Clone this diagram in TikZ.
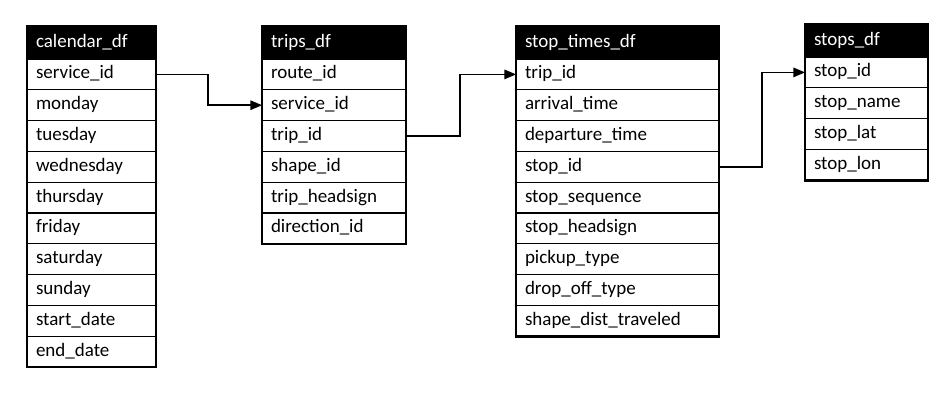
\documentclass[tikz,border=0pt]{standalone}
\usepackage{fontspec}
\setmainfont{Carlito}
\usetikzlibrary{arrows,positioning}

\begin{document}
\begin{tikzpicture}[x=1pt,y=-1pt,
  head/.style={fill=black,text=white,draw=black,line width=1pt,anchor=north west,outer sep=0pt,
    minimum height=33pt,inner xsep=9pt,text height=13pt,text depth=4pt,align=left,
    font=\fontsize{19}{22}\selectfont},
  field/.style={draw=black,line width=1.2pt,outer sep=0pt,minimum height=30.8pt,inner xsep=9pt,
    text height=13pt,text depth=4pt,align=left,font=\fontsize{19}{22}\selectfont},
  frame/.style={line width=2.6pt},
  link/.style={-triangle 45,line width=1.7pt}]
\useasboundingbox (0,0) rectangle (949,400);

% tables
\node[head,text width=111pt,name=cal-0] at (27,26) {calendar\_df};
\foreach \f [count=\i, remember=\i as \j (initially 0)] in
  {service\_id,monday,tuesday,wednesday,thursday,friday,saturday,sunday,start\_date,end\_date}
  \node[field,text width=111pt,below=0pt of cal-\j,name=cal-\i] {\f};
\draw[frame] (cal-0.north west) rectangle (cal-10.south east);

\node[head,text width=126pt,name=trips-0] at (262,26) {trips\_df};
\foreach \f [count=\i, remember=\i as \j (initially 0)] in
  {route\_id,service\_id,trip\_id,shape\_id,trip\_headsign,direction\_id}
  \node[field,text width=126pt,below=0pt of trips-\j,name=trips-\i] {\f};
\draw[frame] (trips-0.north west) rectangle (trips-6.south east);

\node[head,text width=185pt,name=times-0] at (516,26) {stop\_times\_df};
\foreach \f [count=\i, remember=\i as \j (initially 0)] in
  {trip\_id,arrival\_time,departure\_time,stop\_id,stop\_sequence,stop\_headsign,
   pickup\_type,drop\_off\_type,shape\_dist\_traveled}
  \node[field,text width=185pt,below=0pt of times-\j,name=times-\i] {\f};
\draw[frame] (times-0.north west) rectangle (times-9.south east);

\node[head,text width=105pt,name=stops-0] at (805,24) {stops\_df};
\foreach \f [count=\i, remember=\i as \j (initially 0)] in
  {stop\_id,stop\_name,stop\_lat,stop\_lon}
  \node[field,text width=105pt,below=0pt of stops-\j,name=stops-\i] {\f};
\draw[frame] (stops-0.north west) rectangle (stops-4.south east);

% connections
\draw[link] (cal-1.east) -- ++(52,0) |- (trips-2.west);
\draw[link] (trips-3.east) -- ++(54,0) |- (times-1.west);
\draw[link] (times-4.east) -- ++(43,0) |- (stops-1.west);

\end{tikzpicture}
\end{document}
